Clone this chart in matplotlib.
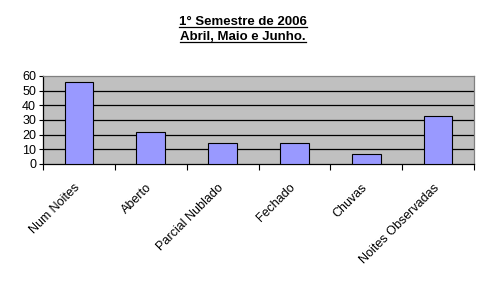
import matplotlib
matplotlib.use("Agg")
import matplotlib.pyplot as plt
from matplotlib.lines import Line2D

plt.rcParams['font.family'] = ['Liberation Sans', 'DejaVu Sans']

# dados do grafico
categorias = ['Num Noites', 'Aberto', 'Parcial Nublado', 'Fechado', 'Chuvas', 'Noites Observadas']
valores = [56, 22, 14, 14, 7, 33]
titulo = ['1° Semestre de 2006', 'Abril, Maio e Junho.']
y_ticks = [0, 10, 20, 30, 40, 50, 60]

W, H = 488, 282
fig = plt.figure(figsize=(W / 100, H / 100), dpi=100)
fig.patch.set_facecolor('white')

# area do grafico em pixels
x0, x1 = 43, 474
y0, y1 = 76, 164
ax = fig.add_axes([x0 / W, 1 - y1 / H, (x1 - x0) / W, (y1 - y0) / H])
ax.set_facecolor('#C0C0C0')

pos = list(range(len(categorias)))
ax.bar(pos, valores, width=0.4, color='#9999FF', edgecolor='black', linewidth=0.8, zorder=3)

ax.set_xlim(-0.5, len(categorias) - 0.5)
ax.set_ylim(0, 60)
ax.set_yticks(y_ticks)
ax.set_yticklabels([str(v) for v in y_ticks], fontsize=9)
for v in y_ticks[1:-1]:
    ax.axhline(v, color='black', linewidth=0.9, zorder=1)

# ticks entre categorias
ax.set_xticks([p - 0.5 for p in pos] + [len(categorias) - 0.5])
ax.set_xticklabels([])
ax.tick_params(axis='x', direction='out', length=4, width=0.8)
ax.tick_params(axis='y', direction='out', length=3, width=0.8, pad=2)

for p, nome in zip(pos, categorias):
    ax.text(p - 0.07, -12, nome, rotation=45, ha='right', va='top',
            rotation_mode='anchor', fontsize=9)

for s in ['top', 'right']:
    ax.spines[s].set_color('#808080')
    ax.spines[s].set_linewidth(0.9)
for s in ['left', 'bottom']:
    ax.spines[s].set_color('black')
    ax.spines[s].set_linewidth(0.9)

# titulo sublinhado
t1 = fig.text(243 / W, 1 - 25 / H, titulo[0], ha='center', va='baseline',
              fontsize=9.5, fontweight='bold')
t2 = fig.text(243 / W, 1 - 40 / H, titulo[1], ha='center', va='baseline',
              fontsize=9.5, fontweight='bold')
fig.canvas.draw()
r = fig.canvas.get_renderer()
for t, yb in [(t1, 25), (t2, 40)]:
    bb = t.get_window_extent(r)
    yl = 1 - (yb + 1.8) / H
    fig.add_artist(Line2D([bb.x0 / W, bb.x1 / W], [yl, yl], color='black', linewidth=0.9))

fig.savefig('out.png', dpi=100)
